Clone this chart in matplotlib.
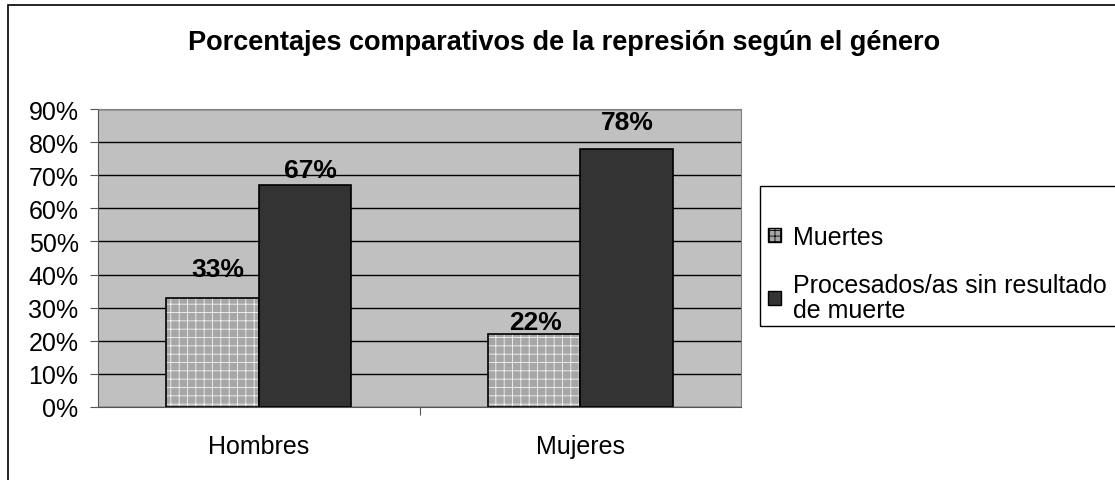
import numpy as np
import matplotlib.pyplot as plt
from matplotlib.patches import Rectangle, Patch

plt.rcParams['font.family'] = ['Liberation Sans', 'DejaVu Sans']
plt.rcParams['hatch.linewidth'] = 0.6

categories = ['Hombres', 'Mujeres']
muertes = [33, 22]
procesados = [67, 78]
series_names = ['Muertes', 'Procesados/as sin resultado\nde muerte']
title = 'Porcentajes comparativos de la represión según el género'

fig = plt.figure(figsize=(11.15, 4.81), dpi=100)
ax = fig.add_axes([0.0879, 0.1518, 0.5767, 0.6195])

# outer chart border (cut off at the right and bottom)
fig.patches.append(Rectangle((8 / 1115, -0.05), 1.2, (478 - 3) / 481 + 0.05,
                             transform=fig.transFigure, fill=False,
                             edgecolor='black', linewidth=1.2, clip_on=False))

ax.set_facecolor('#c0c0c0')
x = np.arange(len(categories))
w = 0.287

# hatched bars: gray with white pattern, then black edge on top
ax.bar(x - w / 2, muertes, w, color='#a6a6a6', hatch='++', edgecolor='#f4f4f4',
       linewidth=0, zorder=2)
ax.bar(x - w / 2, muertes, w, fill=False, edgecolor='black', linewidth=1.2, zorder=3)
ax.bar(x + w / 2, procesados, w, color='#333333', edgecolor='black',
       linewidth=1.2, zorder=3)

# label offsets (points) as Excel placed them
off_m = [(4, 21), (1, 9)]
off_p = [(4, 11), (1, 19)]
for xi, v, o in zip(x - w / 2, muertes, off_m):
    ax.annotate(f'{v}%', (xi, v), xytext=o, textcoords='offset points',
                ha='center', va='center', fontsize=19, fontweight='bold')
for xi, v, o in zip(x + w / 2, procesados, off_p):
    ax.annotate(f'{v}%', (xi, v), xytext=o, textcoords='offset points',
                ha='center', va='center', fontsize=19, fontweight='bold')

ax.set_xlim(-0.5, 1.5)
ax.set_ylim(0, 90)
ax.set_yticks(np.arange(0, 91, 10))
ax.set_yticklabels([f'{t}%' for t in range(0, 91, 10)], fontsize=18)
ax.yaxis.grid(True, color='black', linewidth=1.0, zorder=1)
ax.set_axisbelow(True)
ax.set_xticks([0.5])
ax.set_xticklabels([''])
ax.tick_params(axis='x', length=6, color='#555555')
ax.tick_params(axis='y', length=6, color='#555555', pad=8)
for i, c in enumerate(categories):
    ax.text(i, -0.13, c, transform=ax.get_xaxis_transform(), ha='center',
            va='center', fontsize=18)

for s in ['top', 'right']:
    ax.spines[s].set_color('#808080')
ax.spines['left'].set_color('#555555')
ax.spines['bottom'].set_color('#555555')

fig.text(0.506, 0.91, title, ha='center', va='center', fontsize=19.5,
         fontweight='bold')

# legend box
fig.patches.append(Rectangle((760 / 1115, 1 - 327 / 481), 0.4, 140 / 481,
                             transform=fig.transFigure, fill=False,
                             edgecolor='black', linewidth=1.0, clip_on=False))
handles = [Patch(facecolor='#a6a6a6', edgecolor='black', hatch='+++'),
           Patch(facecolor='#333333', edgecolor='black')]
leg = fig.legend(handles, series_names, loc='upper left',
                 bbox_to_anchor=(768 / 1115, 1 - 226 / 481), fontsize=18,
                 frameon=False, handlelength=0.5, handleheight=0.5,
                 handletextpad=0.5, labelspacing=0.95, borderpad=0,
                 borderaxespad=0)
for t in leg.get_texts():
    t.set_linespacing(1.05)

fig.savefig('out.png', dpi=100)
